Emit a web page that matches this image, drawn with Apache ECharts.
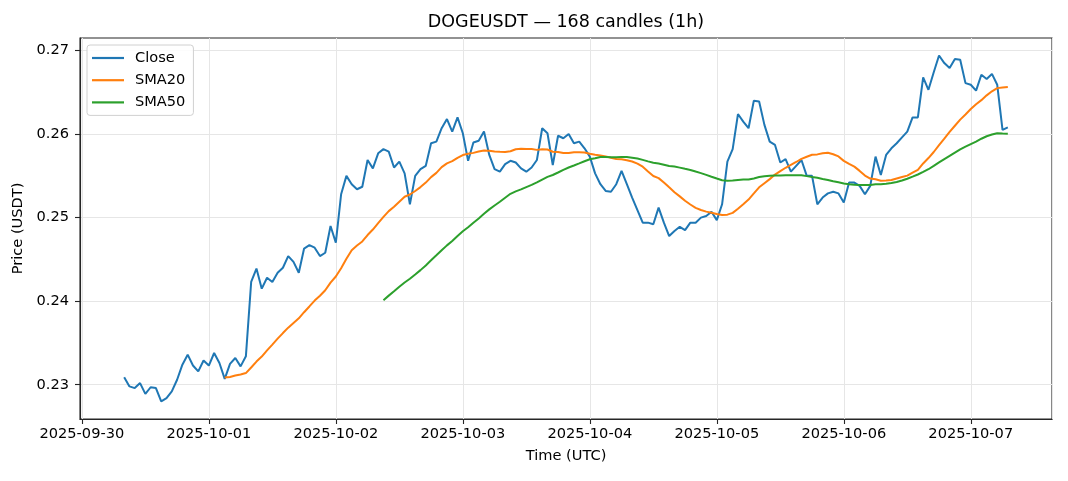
<!DOCTYPE html>
<html>
<head>
<meta charset="utf-8">
<script src="https://cdn.jsdelivr.net/npm/echarts@6/dist/echarts.min.js"></script>
<style>
html,body{margin:0;padding:0;background:#fff;}
#chart{width:1068px;height:481px;}
</style>
</head>
<body>
<div id="chart"></div>
<script>
// ---- data ----
const startTimeUTC = '2025-09-30T08:00:00Z'; // first hourly candle
const closeValues = [
0.2309,0.2298,0.2296,0.2302,0.2289,0.2297,0.2296,0.2280,0.2284,0.2292,
0.2306,0.2324,0.2336,0.2323,0.2316,0.2329,0.2323,0.2338,0.2326,0.2307,
0.2325,0.2332,0.2322,0.2334,0.2423,0.2439,0.2415,0.2428,0.2423,0.2434,
0.2440,0.2454,0.2447,0.2434,0.2463,0.2467,0.2464,0.2454,0.2458,0.2490,
0.2470,0.2528,0.2550,0.2540,0.2534,0.2537,0.2569,0.2559,0.2577,0.2582,
0.2579,0.2560,0.2567,0.2553,0.2516,0.2550,0.2558,0.2562,0.2589,0.2591,
0.2607,0.2618,0.2603,0.2620,0.2601,0.2568,0.2590,0.2592,0.2603,0.2575,
0.2558,0.2555,0.2564,0.2568,0.2566,0.2559,0.2555,0.2560,0.2569,0.2607,
0.2601,0.2563,0.2598,0.2595,0.2600,0.2589,0.2591,0.2583,0.2573,0.2553,
0.2540,0.2532,0.2531,0.2540,0.2556,0.2540,0.2524,0.2509,0.2494,0.2494,
0.2492,0.2512,0.2494,0.2478,0.2484,0.2489,0.2485,0.2494,0.2494,0.2500,
0.2502,0.2507,0.2497,0.2516,0.2567,0.2582,0.2624,0.2615,0.2607,0.2640,
0.2639,0.2611,0.2591,0.2587,0.2566,0.2570,0.2555,0.2562,0.2569,0.2550,
0.2550,0.2516,0.2524,0.2529,0.2531,0.2529,0.2518,0.2542,0.2542,0.2538,
0.2528,0.2538,0.2573,0.2551,0.2575,0.2583,0.2589,0.2596,0.2603,0.2620,
0.2620,0.2668,0.2653,0.2674,0.2694,0.2685,0.2679,0.2690,0.2689,0.2661,
0.2659,0.2652,0.2671,0.2666,0.2672,0.2659,0.2605,0.2608
];
const seriesNames = ['Close', 'SMA20', 'SMA50'];
const smaWindows = [20, 50];
const yTickValues = [0.23, 0.24, 0.25, 0.26, 0.27];
const titleText = 'DOGEUSDT \u2014 168 candles (1h)';
const xAxisTitle = 'Time (UTC)';
const yAxisTitle = 'Price (USDT)';

// ---- build ----
const HOUR = 3600 * 1000;
const t0 = Date.parse(startTimeUTC);
const times = closeValues.map((_, i) => t0 + i * HOUR);
function sma(arr, n) {
  return arr.map((_, i) => {
    if (i < n - 1) return null;
    let s = 0;
    for (let k = i - n + 1; k <= i; k++) s += arr[k];
    return s / n;
  });
}
const sma20 = sma(closeValues, smaWindows[0]);
const sma50 = sma(closeValues, smaWindows[1]);
const pairs = (vals) => vals.map((v, i) => [times[i], v]);

const span = times[times.length - 1] - times[0];
const xMin = times[0] - span * 0.05;
const xMax = times[times.length - 1] + span * 0.05;

const FONT = 'DejaVu Sans';
const colors = ['#1f77b4', '#ff7f0e', '#2ca02c'];
const SPINE = '#262626';

const chart = echarts.init(document.getElementById('chart'), null, {renderer: 'canvas'});
chart.setOption({
  useUTC: true,
  animation: false,
  backgroundColor: '#ffffff',
  color: colors,
  textStyle: {fontFamily: FONT},
  title: {
    text: titleText,
    left: 566, top: 13, padding: 0,
    textAlign: 'center',
    textStyle: {fontFamily: FONT, fontSize: 17.5, fontWeight: 'normal', color: '#000'}
  },
  grid: {
    left: 80, right: 16, top: 38, bottom: 62,
    show: true, borderColor: SPINE, borderWidth: 1.1, backgroundColor: 'transparent'
  },
  legend: {
    orient: 'vertical',
    left: 87, top: 45,
    padding: [5, 8, 5, 5],
    itemGap: 6.2,
    itemWidth: 32, itemHeight: 2.2,
    icon: 'rect',
    borderColor: '#d0d0d0', borderWidth: 1, borderRadius: 3,
    backgroundColor: 'rgba(255,255,255,0.85)',
    textStyle: {fontFamily: FONT, fontSize: 14.6, color: '#000', lineHeight: 16, padding: [0, 0, 0, 6]},
    data: seriesNames
  },
  xAxis: {
    type: 'time',
    min: xMin, max: xMax,
    minInterval: 24 * HOUR, maxInterval: 24 * HOUR,
    name: xAxisTitle, nameLocation: 'middle', nameGap: 30,
    nameTextStyle: {fontFamily: FONT, fontSize: 14.6, color: '#000'},
    axisLine: {show: true, lineStyle: {color: SPINE, width: 1.1}},
    axisTick: {show: true, length: 5, lineStyle: {color: SPINE, width: 1.1}},
    axisLabel: {
      fontFamily: FONT, fontSize: 14.6, color: '#000', margin: 8,
      showMinLabel: false, showMaxLabel: false,
      formatter: (v) => new Date(v).toISOString().slice(0, 10)
    },
    splitLine: {show: true, lineStyle: {color: '#e6e6e6', width: 1}}
  },
  yAxis: {
    type: 'value',
    min: 0.2259, max: 0.2715,
    splitNumber: 5,
    name: yAxisTitle, nameLocation: 'middle', nameGap: 52, nameRotate: 90,
    nameTextStyle: {fontFamily: FONT, fontSize: 14.6, color: '#000'},
    axisLine: {show: true, lineStyle: {color: SPINE, width: 1.1}},
    axisTick: {show: true, length: 5, customValues: yTickValues, lineStyle: {color: SPINE, width: 1.1}},
    axisLabel: {
      fontFamily: FONT, fontSize: 14.6, color: '#000', margin: 11,
      customValues: yTickValues,
      formatter: (v) => Number(v).toFixed(2)
    },
    splitLine: {show: true, lineStyle: {color: '#e6e6e6', width: 1}}
  },
  series: [
    {name: seriesNames[0], type: 'line', data: pairs(closeValues), showSymbol: false, lineStyle: {width: 2, color: colors[0]}, itemStyle: {color: colors[0]}, z: 3},
    {name: seriesNames[1], type: 'line', data: pairs(sma20), showSymbol: false, lineStyle: {width: 2, color: colors[1]}, itemStyle: {color: colors[1]}, z: 4},
    {name: seriesNames[2], type: 'line', data: pairs(sma50), showSymbol: false, lineStyle: {width: 2, color: colors[2]}, itemStyle: {color: colors[2]}, z: 5}
  ]
});
</script>
</body>
</html>
